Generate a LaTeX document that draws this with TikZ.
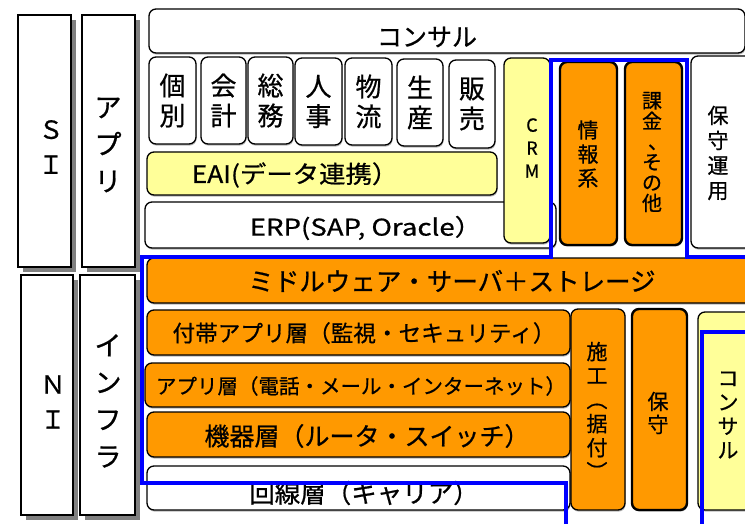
\documentclass[tikz,border=0pt]{standalone}
\usepackage{fontspec}
\usepackage{graphicx}
\setmainfont{Noto Sans CJK JP}[FakeBold=0.7]
\usetikzlibrary{shadows}
\newcommand\fs[2]{\fontsize{#1}{#2}\selectfont}
\newcommand\bx[6]{\node[#1, minimum width={(#4-#2)*1pt}, minimum height={(#5-#3)*1pt}] (#6) at ({(#2+#4)/2},{(#3+#5)/2}) {};}
\newcommand\vlp{\rotatebox[origin=c]{-90}{（}}
\newcommand\vrp{\rotatebox[origin=c]{-90}{）}}
\definecolor{org}{HTML}{FF9900}
\definecolor{ylw}{HTML}{FFFF99}
\definecolor{blu}{HTML}{0000FF}
\begin{document}
\begin{tikzpicture}[x=1pt,y=-1pt,
  sqbox/.style={draw=black, line width=1.4pt, fill=white, inner sep=0pt,
    drop shadow={shadow xshift=5pt, shadow yshift=-5pt, fill=black!50, opacity=1}},
  rbox/.style={draw=black, line width=1.3pt, rounded corners=7pt, fill=white, inner sep=0pt,
    drop shadow={shadow xshift=0.6pt, shadow yshift=-1.6pt, fill=black!28, opacity=1}},
  ybox/.style={rbox, fill=ylw},
  obox/.style={rbox, fill=org},
  thk/.style={line width=2.4pt},
  txt/.style={inner sep=0pt, align=center},
  bline/.style={draw=blu, line width=4.5pt}]
\useasboundingbox (0,0) rectangle (745,524);
\clip (0,0) rectangle (745,524);
% left column boxes
\bx{sqbox}{18}{15}{71}{267}{si}
\bx{sqbox}{82}{15}{135}{267}{app}
\bx{sqbox}{21}{275}{73}{515}{ni}
\bx{sqbox}{80}{275}{135}{515}{infra}
\node[txt, font=\fs{25}{35}] (tsi) at (51,147) {Ｓ\\Ｉ};
\node[txt, font=\fs{27}{37}] (tapp) at (108,145) {ア\\プ\\リ};
\node[txt, font=\fs{25}{35}] (tni) at (53,402) {Ｎ\\Ｉ};
\node[txt, font=\fs{27}{37}] (tinfra) at (108,401) {イ\\ン\\フ\\ラ};
% top consult
\bx{rbox}{149}{9}{745}{53}{cons}
\node[txt, font=\fs{25}{26}] (tcons) at (427,37) {コンサル};
% small boxes
\bx{rbox}{149}{57}{196}{144}{b1}
\bx{rbox}{201}{57}{246}{144}{b2}
\bx{rbox}{248}{57}{293}{144}{b3}
\bx{rbox}{295}{58}{342}{145}{b4}
\bx{rbox}{345}{58}{392}{145}{b5}
\bx{rbox}{397}{59}{443}{146}{b6}
\bx{rbox}{449}{60}{495}{148}{b7}
\node[txt, font=\fs{26}{30}] (t1) at (b1) {個\\別};
\node[txt, font=\fs{26}{30}] (t2) at (b2) {会\\計};
\node[txt, font=\fs{26}{30}] (t3) at (b3) {総\\務};
\node[txt, font=\fs{26}{30}] (t4) at (b4) {人\\事};
\node[txt, font=\fs{26}{30}] (t5) at (b5) {物\\流};
\node[txt, font=\fs{26}{30}] (t6) at (b6) {生\\産};
\node[txt, font=\fs{26}{30}] (t7) at (b7) {販\\売};
% EAI, ERP
\bx{ybox}{147}{152}{497}{195}{eai}
\node[txt, font=\fs{24}{26}\addfontfeature{FakeStretch=1.1}] (teai) at (295,175) {EAI(データ連携）};
\bx{rbox}{145}{202}{556}{248}{erp}
\node[txt, font=\fs{23}{26}\addfontfeature{FakeStretch=1.2}] (terp) at (366,228) {ERP(SAP, Oracle）};
% CRM and right column
\bx{ybox}{504}{58}{550}{243}{crm}
\node[txt, font=\fs{18}{23}] (tcrm) at (532,148) {C\\R\\M};
\bx{obox,thk}{560}{62}{617}{245}{joho}
\node[txt, font=\fs{21}{24}] (tjoho) at (588,154) {情\\報\\系};
\bx{obox,thk}{625}{62}{682}{245}{kakin}
\node[txt, font=\fs{20}{20.5}] (tkakin) at (652,152) {課\\金\\{\kern12pt、}\\そ\\の\\他};
\bx{rbox}{691}{56}{760}{248}{hosyu}
\node[txt, font=\fs{21}{25}] (thosyu) at (718,153) {保\\守\\運\\用};
% infra layers
\bx{obox}{147}{258}{760}{303}{mid}
\node[txt, font=\fs{25.5}{26}] (tmid) at (452,281) {ミドルウェア・サーバ＋ストレージ};
\bx{obox}{147}{310}{570}{355}{futai}
\node[txt, font=\fs{22.6}{26}] (tfutai) at (364,333) {付帯アプリ層（監視・セキュリティ）};
\bx{obox}{145}{363}{570}{407}{apso}
\node[txt, font=\fs{20.5}{24}] (tapso) at (361,386) {アプリ層（電話・メール・インターネット）};
\bx{obox}{147}{412}{570}{457}{kiki}
\node[txt, font=\fs{25}{26}] (tkiki) at (367,436) {機器層（ルータ・スイッチ）};
\bx{rbox}{147}{466}{570}{510}{kaisen}
\node[txt, font=\fs{25.5}{26}] (tkaisen) at (364,493) {回線層（キャリア）};
\bx{obox}{571}{309}{625}{510}{seko}
\node[txt, font=\fs{21}{24}] (tseko) at (597,412) {施\\工\\\vlp\\据\\付\\\vrp};
\bx{obox,thk}{632}{309}{687}{510}{hosyu2}
\node[txt, font=\fs{21}{23}] (thosyu2) at (658,413) {保\\守};
\bx{ybox}{698}{312}{770}{510}{cons2}
\node[txt, font=\fs{21}{24}] (tcons2) at (728,415) {コ\\ン\\サ\\ル};
% blue outlines
\draw[bline] (566,530) -- (566,483) -- (142,483) -- (142,257) -- (551,257) -- (551,60) -- (687,60) -- (687,257) -- (760,257);
\draw[bline] (702,530) -- (702,332) -- (760,332);
\end{tikzpicture}
\end{document}
